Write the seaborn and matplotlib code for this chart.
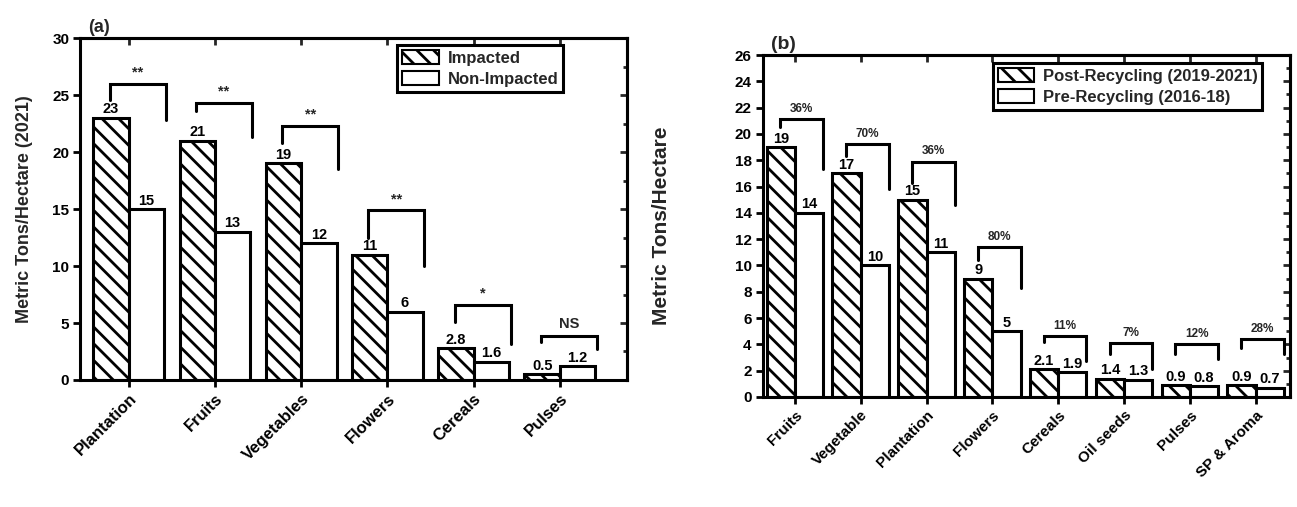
import matplotlib
matplotlib.use("Agg")
import matplotlib.pyplot as plt
from matplotlib.patches import Patch
from matplotlib.ticker import MultipleLocator
import pandas as pd
import seaborn as sns

# Panel (a): crop yield in 2021, impacted vs non-impacted farms
crops_a = ["Plantation", "Fruits", "Vegetables", "Flowers", "Cereals", "Pulses"]
impacted = [23, 21, 19, 11, 2.8, 0.5]
non_impacted = [15, 13, 12, 6, 1.6, 1.2]
signif_a = ["**", "**", "**", "**", "*", "NS"]
series_a = ["Impacted", "Non-Impacted"]

# Panel (b): crop yield before and after recycling
crops_b = ["Fruits", "Vegetable", "Plantation", "Flowers", "Cereals",
           "Oil seeds", "Pulses", "SP & Aroma"]
post_recycling = [19, 17, 15, 9, 2.1, 1.4, 0.9, 0.9]
pre_recycling = [14, 10, 11, 5, 1.9, 1.3, 0.8, 0.7]
change_b = ["36%", "70%", "36%", "80%", "11%", "7%", "12%", "28%"]
series_b = ["Post-Recycling (2019-2021)", "Pre-Recycling (2016-18)"]

# Comparison brackets: (top, left leg end, right leg end) in data units
brackets_a = [(26.0, 24.6, 22.8), (24.3, 23.6, 21.3), (22.3, 20.8, 18.5),
              (14.9, 12.5, 10.0), (6.6, 5.1, 3.2), (3.9, 3.3, 2.7)]
brackets_b = [(21.1, 20.5, 17.3), (19.2, 18.3, 15.8), (17.9, 16.3, 14.6),
              (11.4, 10.4, 8.3), (4.6, 4.2, 2.7), (4.1, 3.3, 2.1),
              (4.0, 3.3, 2.9), (4.4, 3.7, 3.3)]

sns.set_theme(style="ticks")
plt.rcParams["font.family"] = ["Liberation Sans", "DejaVu Sans"]
plt.rcParams["font.weight"] = "bold"
plt.rcParams["hatch.linewidth"] = 2.0
plt.rcParams["axes.linewidth"] = 2.2

LW = 2.2
HATCH = "\\\\"


def fmt(v):
    return f"{v:g}"


def draw_panel(ax, cats, s1, s2, names, width, ymax, ystep, yminor, xlim,
               brackets, marks, mark_size, xfont, ylabel, yfont, labelpad,
               tag, tagfont, legend_anchor):
    n = len(cats)
    df = pd.DataFrame({
        "crop": cats * 2,
        "yield": list(s1) + list(s2),
        "series": [names[0]] * n + [names[1]] * n,
    })
    sns.barplot(data=df, x="crop", y="yield", hue="series", order=cats,
                hue_order=names, palette=["white", "white"], saturation=1,
                width=width, edgecolor="black", linewidth=LW, errorbar=None,
                legend=False, ax=ax)
    for bar in ax.containers[0]:
        bar.set_hatch(HATCH)

    for cont, vals in zip(ax.containers[:2], (s1, s2)):
        ax.bar_label(cont, labels=[fmt(v) for v in vals], padding=1,
                     fontsize=10.5, fontweight="bold", color="black")

    for i, ((top, lend, rend), mark) in enumerate(zip(brackets, marks)):
        xl, xr = i - 0.22, i + 0.43
        ax.plot([xl, xl, xr, xr], [lend, top, top, rend], color="black",
                lw=LW, solid_joinstyle="miter", clip_on=False)
        ax.text((xl + xr) / 2, top + ymax * 0.012, mark, ha="center",
                va="bottom", fontsize=mark_size, fontweight="bold")

    ax.set_xlim(*xlim)
    ax.set_ylim(0, ymax)
    ax.yaxis.set_major_locator(MultipleLocator(ystep))
    ax.set_xticks(range(n))
    ax.set_xticklabels(cats, rotation=45, ha="right", rotation_mode="anchor",
                       fontsize=xfont, fontweight="bold")
    for lab in ax.get_yticklabels():
        lab.set_fontweight("bold")
        lab.set_fontsize(11)
    ax.tick_params(axis="both", direction="out", length=5, width=2,
                   colors="black", pad=3)
    ax.set_xlabel("")
    ax.set_ylabel(ylabel, fontsize=yfont, fontweight="bold", labelpad=labelpad)
    for sp in ax.spines.values():
        sp.set_visible(True)
        sp.set_linewidth(LW)
        sp.set_color("black")

    top_ax = ax.secondary_xaxis("top")
    top_ax.set_xticks(range(n))
    top_ax.tick_params(direction="in", length=5, width=2, labeltop=False)
    top_ax.spines["top"].set_linewidth(LW)
    right_ax = ax.secondary_yaxis("right")
    right_ax.yaxis.set_major_locator(MultipleLocator(ystep))
    right_ax.yaxis.set_minor_locator(MultipleLocator(yminor))
    right_ax.tick_params(which="both", direction="in", width=2, labelright=False)
    right_ax.tick_params(which="major", length=5)
    right_ax.tick_params(which="minor", length=3)
    right_ax.spines["right"].set_linewidth(LW)

    ax.text(0.015, 1.006, tag, transform=ax.transAxes, ha="left",
            va="bottom", fontsize=tagfont, fontweight="bold")

    handles = [Patch(facecolor="white", edgecolor="black", hatch=HATCH,
                     linewidth=1.5, label=names[0]),
               Patch(facecolor="white", edgecolor="black", linewidth=1.5,
                     label=names[1])]
    leg = ax.legend(handles=handles, loc="upper left",
                    bbox_to_anchor=legend_anchor, frameon=True, fancybox=False,
                    framealpha=1, edgecolor="black", fontsize=12,
                    borderpad=0.3, labelspacing=0.35, handlelength=2.2,
                    handleheight=0.9, handletextpad=0.5, borderaxespad=0)
    leg.get_frame().set_linewidth(LW)
    for t in leg.get_texts():
        t.set_fontweight("bold")


fig = plt.figure(figsize=(12.97, 5.07), dpi=100)
ax_a = fig.add_axes([0.062, 0.2505, 0.4215, 0.6745])
ax_b = fig.add_axes([0.588, 0.217, 0.4065, 0.6745])

draw_panel(ax_a, crops_a, impacted, non_impacted, series_a, 0.82, 30, 5, 2.5,
           (-0.56, 5.78), brackets_a, signif_a, 10.5, 12,
           "Metric Tons/Hectare (2021)", 13, 14, "(a)", 13, (0.58, 0.98))
draw_panel(ax_b, crops_b, post_recycling, pre_recycling, series_b, 0.86, 26, 2,
           1, (-0.49, 7.52), brackets_b, change_b, 8.5, 11,
           "Metric Tons/Hectare", 15, 46, "(b)", 14, (0.436, 0.977))

fig.savefig("out.png", dpi=100)
